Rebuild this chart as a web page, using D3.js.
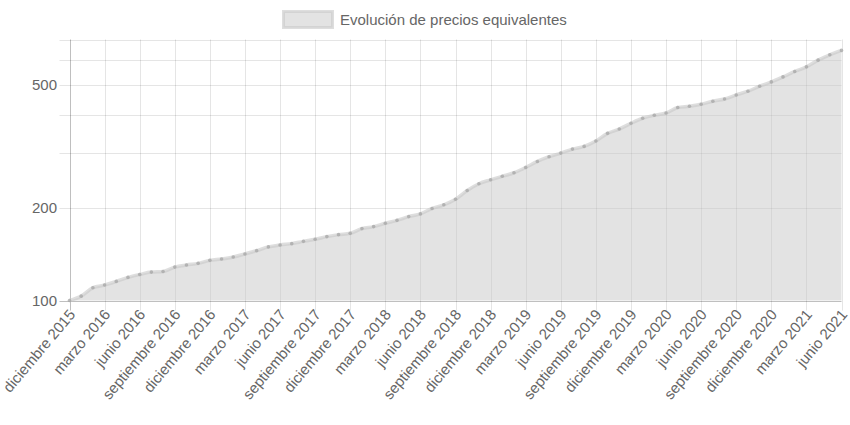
<!DOCTYPE html>
<html><head><meta charset="utf-8">
<script src="https://cdn.jsdelivr.net/npm/d3@7"></script>
<style>
html,body{margin:0;padding:0;background:#fff;}
svg text{font-family:"Liberation Sans",Arial,Helvetica,sans-serif;fill:#666;}
</style></head>
<body><svg id="chart" width="850" height="425"></svg>
<script>
const seriesName = "Evolución de precios equivalentes";
const categories = [
"diciembre 2015","enero 2016","febrero 2016","marzo 2016","abril 2016","mayo 2016","junio 2016","julio 2016","agosto 2016","septiembre 2016","octubre 2016","noviembre 2016",
"diciembre 2016","enero 2017","febrero 2017","marzo 2017","abril 2017","mayo 2017","junio 2017","julio 2017","agosto 2017","septiembre 2017","octubre 2017","noviembre 2017",
"diciembre 2017","enero 2018","febrero 2018","marzo 2018","abril 2018","mayo 2018","junio 2018","julio 2018","agosto 2018","septiembre 2018","octubre 2018","noviembre 2018",
"diciembre 2018","enero 2019","febrero 2019","marzo 2019","abril 2019","mayo 2019","junio 2019","julio 2019","agosto 2019","septiembre 2019","octubre 2019","noviembre 2019",
"diciembre 2019","enero 2020","febrero 2020","marzo 2020","abril 2020","mayo 2020","junio 2020","julio 2020","agosto 2020","septiembre 2020","octubre 2020","noviembre 2020",
"diciembre 2020","enero 2021","febrero 2021","marzo 2021","abril 2021","mayo 2021","junio 2021"];
const values = [
100, 103.3, 110.0, 112.2, 115.3, 118.8, 121.4, 123.6, 124.2, 128.3, 130.3, 131.9,
134.9, 136.3, 138.3, 141.5, 145.0, 149.1, 151.3, 152.8, 155.4, 157.8, 161.0, 163.4,
165.0, 170.9, 173.5, 177.8, 181.8, 186.9, 190.7, 198.6, 204.1, 212.8, 227.1, 238.8,
245.9, 252.4, 259.2, 269.7, 282.0, 292.1, 300.1, 309.2, 315.5, 328.3, 347.7, 359.1,
374.8, 389.1, 397.9, 404.7, 421.4, 425.5, 431.9, 441.7, 449.4, 463.0, 476.0, 494.1,
510.3, 529.7, 551.6, 570.8, 600.1, 624.5, 645.3];
const xTickLabels = ["diciembre 2015","marzo 2016","junio 2016","septiembre 2016","diciembre 2016","marzo 2017","junio 2017","septiembre 2017","diciembre 2017","marzo 2018","junio 2018","septiembre 2018","diciembre 2018","marzo 2019","junio 2019","septiembre 2019","diciembre 2019","marzo 2020","junio 2020","septiembre 2020","diciembre 2020","marzo 2021","junio 2021"];
const yGridValues = [100,200,300,400,500,600,700];
const yTickLabels = [100,200,500];

const svg = d3.select("#chart");
const L = 69.5, R = 841.5, T = 39.5, B = 300.5;
const x = d3.scalePoint().domain(categories).range([L, R]);
const y = d3.scaleLog().domain([100, 700]).range([B, T]);

// horizontal grid
const g = svg.append("g");
g.selectAll("line.hg").data(yGridValues).join("line")
  .attr("x1", L - 10).attr("x2", R)
  .attr("y1", d => Math.round(y(d)) + 0.5).attr("y2", d => Math.round(y(d)) + 0.5)
  .attr("stroke", d => d === 100 ? "rgba(0,0,0,0.25)" : "rgba(0,0,0,0.1)").attr("stroke-width", 1);
// vertical grid
g.selectAll("line.vg").data(xTickLabels).join("line")
  .attr("x1", d => Math.round(x(d)) + 0.5).attr("x2", d => Math.round(x(d)) + 0.5)
  .attr("y1", T).attr("y2", B + 10)
  .attr("stroke", (d, i) => i === 0 ? "rgba(0,0,0,0.25)" : "rgba(0,0,0,0.1)").attr("stroke-width", 1);

// area + line
const area = d3.area().x((d, i) => x(categories[i])).y0(B).y1(d => y(d)).curve(d3.curveMonotoneX);
const line = d3.line().x((d, i) => x(categories[i])).y(d => y(d)).curve(d3.curveMonotoneX);
svg.append("path").datum(values).attr("d", area).attr("fill", "rgba(200,200,200,0.5)");
svg.append("path").datum(values).attr("d", line).attr("fill", "none")
  .attr("stroke", "rgba(200,200,200,0.6)").attr("stroke-width", 3.5);
svg.selectAll("circle.pt").data(values).join("circle")
  .attr("cx", (d, i) => x(categories[i])).attr("cy", d => y(d)).attr("r", 1.8)
  .attr("fill", "rgba(165,165,165,0.75)").attr("stroke", "none");

// y labels
svg.selectAll("text.yl").data(yTickLabels).join("text")
  .attr("x", 57).attr("y", d => y(d)).attr("dy", "0.35em")
  .attr("text-anchor", "end").attr("font-size", 15).text(d => d);

// x labels
svg.selectAll("text.xl").data(xTickLabels).join("text")
  .attr("text-anchor", "end").attr("font-size", 15).attr("dy", "0.35em")
  .attr("transform", d => `translate(${x(d) + 2.5},${B + 11}) rotate(-50)`)
  .text(d => d);

// legend
svg.append("rect").attr("x", 283.5).attr("y", 11.5).attr("width", 49).attr("height", 16)
  .attr("fill", "rgba(200,200,200,0.5)").attr("stroke", "rgba(200,200,200,0.6)").attr("stroke-width", 3);
svg.append("text").attr("x", 340).attr("y", 19.5).attr("dy", "0.35em")
  .attr("font-size", 15).text(seriesName);
</script></body></html>
